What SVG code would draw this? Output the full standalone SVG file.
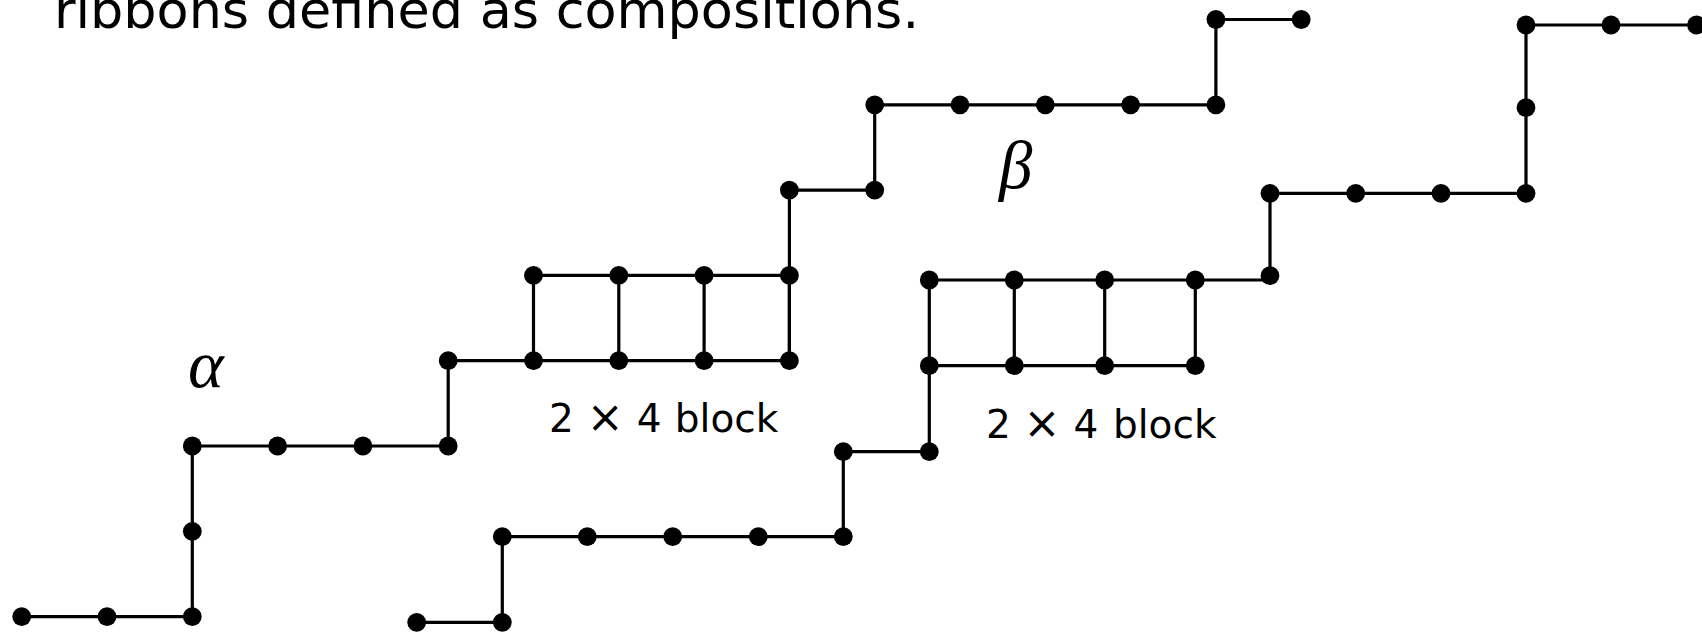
<svg xmlns="http://www.w3.org/2000/svg" width="1702" height="633" viewBox="0 0 1702 633">
<style>
.e{fill:none;stroke:#000;stroke-width:3.2;stroke-linecap:butt;stroke-linejoin:miter}
.n{fill:#000}
.t{font-family:"DejaVu Sans",sans-serif;fill:#000}
.m{font-family:"Liberation Serif",serif;font-style:italic;fill:#000}
</style>
<rect width="1702" height="633" fill="#fff"/>
<text class="t" x="54" y="28" font-size="52.4">ribbons defined as compositions.</text>
<g id="connectors">
<path class="e" d="M21.7,616.6H192.3V446H448.2V360.7H789.4V190.1H874.7V104.8H1215.9V19.5H1301.2"/>
<path class="e" d="M533.5,275.4H789.4M533.5,275.4V360.7M618.8,275.4V360.7M704.1,275.4V360.7M789.4,275.4V360.7"/>
<path class="e" d="M416.7,622.3H502.3V536.7H843.3V451.7H929.3V280H1270"/>
<path class="e" d="M929.3,365.7H1195.3M1014.3,280V365.7M1104.7,280V365.7M1195.3,280V365.7"/>
<path class="e" d="M1270,275.7V193.3H1526V25H1702"/>
</g>
<g id="alpha-ribbon">
<g id="a1"><circle class="n" cx="21.7" cy="616.6" r="9.4"/></g>
<g id="a2"><circle class="n" cx="107" cy="616.6" r="9.4"/></g>
<g id="a3"><circle class="n" cx="192.3" cy="616.6" r="9.4"/></g>
<g id="a4"><circle class="n" cx="192.3" cy="531.3" r="9.4"/></g>
<g id="a5"><circle class="n" cx="192.3" cy="446" r="9.4"/></g>
<g id="a6"><circle class="n" cx="277.6" cy="446" r="9.4"/></g>
<g id="a7"><circle class="n" cx="362.9" cy="446" r="9.4"/></g>
<g id="a8"><circle class="n" cx="448.2" cy="446" r="9.4"/></g>
<g id="a9"><circle class="n" cx="448.2" cy="360.7" r="9.4"/></g>
<g id="a10"><circle class="n" cx="533.5" cy="360.7" r="9.4"/></g>
<g id="a11"><circle class="n" cx="618.8" cy="360.7" r="9.4"/></g>
<g id="a12"><circle class="n" cx="704.1" cy="360.7" r="9.4"/></g>
<g id="a13"><circle class="n" cx="789.4" cy="360.7" r="9.4"/></g>
<g id="a14"><circle class="n" cx="533.5" cy="275.4" r="9.4"/></g>
<g id="a15"><circle class="n" cx="618.8" cy="275.4" r="9.4"/></g>
<g id="a16"><circle class="n" cx="704.1" cy="275.4" r="9.4"/></g>
<g id="a17"><circle class="n" cx="789.4" cy="275.4" r="9.4"/></g>
<g id="a18"><circle class="n" cx="789.4" cy="190.1" r="9.4"/></g>
<g id="a19"><circle class="n" cx="874.7" cy="190.1" r="9.4"/></g>
<g id="a20"><circle class="n" cx="874.7" cy="104.8" r="9.4"/></g>
<g id="a21"><circle class="n" cx="960" cy="104.8" r="9.4"/></g>
<g id="a22"><circle class="n" cx="1045.3" cy="104.8" r="9.4"/></g>
<g id="a23"><circle class="n" cx="1130.6" cy="104.8" r="9.4"/></g>
<g id="a24"><circle class="n" cx="1215.9" cy="104.8" r="9.4"/></g>
<g id="a25"><circle class="n" cx="1215.9" cy="19.5" r="9.4"/></g>
<g id="a26"><circle class="n" cx="1301.2" cy="19.5" r="9.4"/></g>
</g>
<g id="beta-ribbon">
<g id="b1"><circle class="n" cx="416.7" cy="622.3" r="9.4"/></g>
<g id="b2"><circle class="n" cx="502.3" cy="622.3" r="9.4"/></g>
<g id="b3"><circle class="n" cx="502.3" cy="536.7" r="9.4"/></g>
<g id="b4"><circle class="n" cx="587.3" cy="536.7" r="9.4"/></g>
<g id="b5"><circle class="n" cx="672.7" cy="536.7" r="9.4"/></g>
<g id="b6"><circle class="n" cx="758.3" cy="536.7" r="9.4"/></g>
<g id="b7"><circle class="n" cx="843.3" cy="536.7" r="9.4"/></g>
<g id="b8"><circle class="n" cx="843.3" cy="451.7" r="9.4"/></g>
<g id="b9"><circle class="n" cx="929.3" cy="451.7" r="9.4"/></g>
<g id="b10"><circle class="n" cx="929.3" cy="365.7" r="9.4"/></g>
<g id="b11"><circle class="n" cx="1014.3" cy="365.7" r="9.4"/></g>
<g id="b12"><circle class="n" cx="1104.7" cy="365.7" r="9.4"/></g>
<g id="b13"><circle class="n" cx="1195.3" cy="365.7" r="9.4"/></g>
<g id="b14"><circle class="n" cx="929.3" cy="280" r="9.4"/></g>
<g id="b15"><circle class="n" cx="1014.3" cy="280" r="9.4"/></g>
<g id="b16"><circle class="n" cx="1104.7" cy="280" r="9.4"/></g>
<g id="b17"><circle class="n" cx="1195.3" cy="280" r="9.4"/></g>
<g id="b18"><circle class="n" cx="1270" cy="275.7" r="9.4"/></g>
<g id="b19"><circle class="n" cx="1270" cy="193.3" r="9.4"/></g>
<g id="b20"><circle class="n" cx="1355.7" cy="193.3" r="9.4"/></g>
<g id="b21"><circle class="n" cx="1441" cy="193.3" r="9.4"/></g>
<g id="b22"><circle class="n" cx="1526" cy="193.3" r="9.4"/></g>
<g id="b23"><circle class="n" cx="1526" cy="107.7" r="9.4"/></g>
<g id="b24"><circle class="n" cx="1526" cy="25" r="9.4"/></g>
<g id="b25"><circle class="n" cx="1611" cy="25" r="9.4"/></g>
<g id="b26"><circle class="n" cx="1696.5" cy="25" r="9.4"/></g>
</g>
<g id="labels">
<text class="m" x="188" y="387" font-size="68">α</text>
<text class="m" x="999" y="188" font-size="67">β</text>
<g id="block1-label" class="t" font-size="39">
<text x="549" y="431.7">2</text>
<text x="605.3" y="431.7" text-anchor="middle" font-size="44">×</text>
<text x="636.7" y="431.7">4</text>
<text x="674.8" y="431.7">block</text>
</g>
<g id="block2-label" class="t" font-size="39">
<text x="986" y="437.7">2</text>
<text x="1042" y="437.7" text-anchor="middle" font-size="44">×</text>
<text x="1073.5" y="437.7">4</text>
<text x="1113" y="437.7">block</text>
</g>
</g>
</svg>
